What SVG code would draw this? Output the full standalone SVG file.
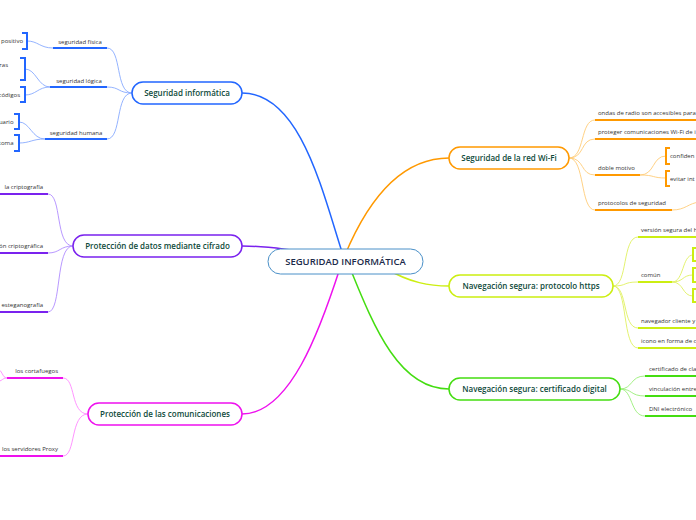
<svg xmlns="http://www.w3.org/2000/svg" width="696" height="520" viewBox="0 0 696 520">
<style>
.mn{fill:#fff;stroke-width:1.5}
.mt{font-family:"Open Sans","Noto Sans",sans-serif;font-size:8px;font-weight:600;fill:#0e4a3a;text-anchor:middle}
.st{font-family:"Open Sans","Noto Sans",sans-serif;font-size:6px;fill:#333}
.ul{fill:none;stroke-width:2}
.mc{fill:none;stroke-width:1.5}
.sc{fill:none;stroke-width:0.9}
.blue{stroke:#2266ff}.lblue{stroke:#88aaff}
.pur{stroke:#7a22ee}.lpur{stroke:#b08cff}
.mag{stroke:#ee11ee}.lmag{stroke:#ff88ff}
.ora{stroke:#ff9900}.lora{stroke:#ffcc77}
.yel{stroke:#ccee11}.lyel{stroke:#e0f060}
.grn{stroke:#44dd11}.lgrn{stroke:#99ee77}
</style>
<rect width="696" height="520" fill="#fff"/>
<g id="connectors">
<path class="mc blue" d="M242,93 C300,93 322,190 342,252"/>
<path class="mc pur" d="M242,246 C262,246 275,248 292,250"/>
<path class="mc mag" d="M242,414 C290,414 320,330 340,268"/>
<path class="mc ora" d="M345,255 C368,200 400,158 449,158"/>
<path class="mc yel" d="M385,268 C410,283 430,286 449,286"/>
<path class="mc grn" d="M350,268 C375,330 400,389 449,389"/>
<path class="sc lblue" d="M132,93 C115,93 122,48 107,48"/>
<path class="sc lblue" d="M132,93 C118,93 120,87 107,87"/>
<path class="sc lblue" d="M132,93 C115,93 122,139 107,139"/>
<path class="sc lblue" d="M53,48 C40,48 38,41 27,41"/>
<path class="sc lblue" d="M50,87 C38,87 36,69 25,69"/>
<path class="sc lblue" d="M50,87 C38,87 36,95 25,95"/>
<path class="sc lblue" d="M45,139 C32,139 30,122 19,122"/>
<path class="sc lblue" d="M45,139 C32,139 30,143 19,143"/>
<path class="sc lpur" d="M73,246 C55,246 62,194 48,194"/>
<path class="sc lpur" d="M73,246 C60,246 60,253 48,253"/>
<path class="sc lpur" d="M73,246 C55,246 62,312 48,312"/>
<path class="sc lmag" d="M88,414 C70,414 76,378 63,378"/>
<path class="sc lmag" d="M88,414 C70,414 76,456 63,456"/>
<path class="sc lmag" d="M7,378 C2,378 3,370 -4,368"/>
<path class="sc lmag" d="M7,378 C2,378 3,381 -4,382"/>
<path class="sc lora" d="M569,158 C585,158 580,120 595,120"/>
<path class="sc lora" d="M569,158 C585,158 580,139 595,139"/>
<path class="sc lora" d="M569,158 C585,158 580,175 595,175"/>
<path class="sc lora" d="M569,158 C585,158 580,210 595,210"/>
<path class="sc lora" d="M640,175 C655,175 652,156 666,156"/>
<path class="sc lora" d="M640,175 C655,175 652,178 666,178"/>
<path class="sc lora" d="M672,210 C686,210 688,203 700,202"/>
<path class="sc lyel" d="M613,286 C628,286 622,237 638,237"/>
<path class="sc lyel" d="M613,286 C628,286 622,282 638,282"/>
<path class="sc lyel" d="M613,286 C628,286 622,328 638,328"/>
<path class="sc lyel" d="M613,286 C628,286 622,348 638,348"/>
<path class="sc lyel" d="M672,282 C684,282 682,255 693,255"/>
<path class="sc lyel" d="M672,282 C684,282 682,275 693,275"/>
<path class="sc lyel" d="M672,282 C684,282 682,296 693,296"/>
<path class="sc lgrn" d="M620,389 C633,389 630,376 645,376"/>
<path class="sc lgrn" d="M620,389 C633,389 630,396 645,396"/>
<path class="sc lgrn" d="M620,389 C633,389 630,416 645,416"/>
</g>
<g id="center">
<rect x="268" y="249" width="155" height="25" rx="12.5" fill="#fff" stroke="#4a90c8" stroke-width="1"/>
<text x="345.5" y="265" font-family="Open Sans,Noto Sans,sans-serif" font-size="9.5" font-weight="600" fill="#1b2a4a" text-anchor="middle">SEGURIDAD INFORMÁTICA</text>
</g>
<g id="n-seg-inf">
<rect class="mn blue" x="132" y="82" width="110" height="22" rx="11"/>
<text class="mt" x="187" y="96">Seguridad informática</text>
</g>
<g id="n-fisica">
<path class="ul blue" d="M53,48 H107"/>
<text class="st" x="80" y="44" text-anchor="middle">seguridad física</text>
</g>
<g id="n-logica">
<path class="ul blue" d="M50,87 H107"/>
<text class="st" x="79" y="83" text-anchor="middle">seguridad lógica</text>
</g>
<g id="n-humana">
<path class="ul blue" d="M45,139 H107"/>
<text class="st" x="76" y="135" text-anchor="middle">seguridad humana</text>
</g>
<g id="n-disp">
<path class="ul blue" d="M22,33 H27 V49 H22"/>
<text class="st" x="23" y="43" text-anchor="end">positivo</text>
</g>
<g id="n-ras">
<path class="ul blue" d="M20,58 H25 V80 H20"/>
<text class="st" x="8" y="67" text-anchor="end">ras</text>
</g>
<g id="n-codigos">
<path class="ul blue" d="M20,87 H25 V102 H20"/>
<text class="st" x="20" y="97" text-anchor="end">códigos</text>
</g>
<g id="n-usuario">
<path class="ul blue" d="M14,114 H19 V129 H14"/>
<text class="st" x="13.5" y="124" text-anchor="end">uario</text>
</g>
<g id="n-toma">
<path class="ul blue" d="M14,135 H19 V151 H14"/>
<text class="st" x="13.5" y="145" text-anchor="end">toma</text>
</g>
<g id="n-cifrado">
<rect class="mn pur" x="73" y="235" width="169" height="22" rx="11"/>
<text class="mt" x="157.5" y="249">Protección de datos mediante cifrado</text>
</g>
<g id="n-cripto">
<path class="ul pur" d="M-5,194 H48"/>
<text class="st" x="43" y="189" text-anchor="end">la criptografía</text>
</g>
<g id="n-func">
<path class="ul pur" d="M-5,253 H48"/>
<text class="st" x="43" y="248" text-anchor="end">ón criptográfica</text>
</g>
<g id="n-estega">
<path class="ul pur" d="M-5,312 H48"/>
<text class="st" x="43" y="307" text-anchor="end">esteganografía</text>
</g>
<g id="n-comunic">
<rect class="mn mag" x="88" y="403" width="154" height="22" rx="11"/>
<text class="mt" x="165" y="417">Protección de las comunicaciones</text>
</g>
<g id="n-corta">
<path class="ul mag" d="M7,378 H63"/>
<text class="st" x="58" y="373" text-anchor="end">los cortafuegos</text>
</g>
<g id="n-proxy">
<path class="ul mag" d="M-5,456 H63"/>
<text class="st" x="58" y="451" text-anchor="end">los servidores Proxy</text>
</g>
<g id="n-wifi">
<rect class="mn ora" x="449" y="147" width="120" height="22" rx="11"/>
<text class="mt" x="509" y="161">Seguridad de la red Wi-Fi</text>
</g>
<g id="n-ondas">
<path class="ul ora" d="M595,120 H700"/>
<text class="st" x="598" y="115">ondas de radio son accesibles para</text>
</g>
<g id="n-proteger">
<path class="ul ora" d="M595,139 H700"/>
<text class="st" x="598" y="134">proteger comunicaciones Wi-Fi de i</text>
</g>
<g id="n-doble">
<path class="ul ora" d="M595,175 H640"/>
<text class="st" x="598" y="170">doble motivo</text>
</g>
<g id="n-confid">
<path class="ul ora" d="M670,148 H666 V164 H670"/>
<text class="st" x="670" y="158">confiden</text>
</g>
<g id="n-evitar">
<path class="ul ora" d="M670,171 H666 V186 H670"/>
<text class="st" x="670" y="181">evitar int</text>
</g>
<g id="n-protoc">
<path class="ul ora" d="M595,210 H672"/>
<text class="st" x="598" y="205">protocolos de seguridad</text>
</g>
<g id="n-https">
<rect class="mn yel" x="449" y="275" width="164" height="22" rx="11"/>
<text class="mt" x="531" y="289">Navegación segura: protocolo https</text>
</g>
<g id="n-version">
<path class="ul yel" d="M638,237 H700"/>
<text class="st" x="641" y="232">versión segura del h</text>
</g>
<g id="n-comun">
<path class="ul yel" d="M638,282 H672"/>
<text class="st" x="641" y="277">común</text>
</g>
<g id="n-c1"><path class="ul yel" d="M700,248 H693 V261 H700"/></g>
<g id="n-c2"><path class="ul yel" d="M700,268 H693 V282 H700"/></g>
<g id="n-c3"><path class="ul yel" d="M700,289 H693 V302 H700"/></g>
<g id="n-naveg">
<path class="ul yel" d="M638,328 H700"/>
<text class="st" x="641" y="323">navegador cliente y</text>
</g>
<g id="n-icono">
<path class="ul yel" d="M638,348 H700"/>
<text class="st" x="641" y="343">icono en forma de c</text>
</g>
<g id="n-certif">
<rect class="mn grn" x="449" y="378" width="171" height="22" rx="11"/>
<text class="mt" x="534.5" y="392">Navegación segura: certificado digital</text>
</g>
<g id="n-clave">
<path class="ul grn" d="M645,376 H700"/>
<text class="st" x="649" y="371">certificado de cla</text>
</g>
<g id="n-vinc">
<path class="ul grn" d="M645,396 H700"/>
<text class="st" x="649" y="391">vinculación entre</text>
</g>
<g id="n-dni">
<path class="ul grn" d="M645,416 H700"/>
<text class="st" x="649" y="411">DNI electrónico</text>
</g>
</svg>
